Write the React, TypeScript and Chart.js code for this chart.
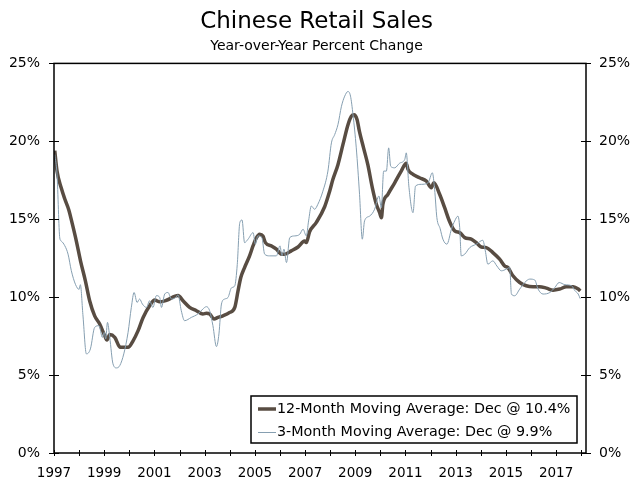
import { useEffect, useRef } from 'react';
import { Chart, registerables } from 'chart.js';

Chart.register(...registerables);

// 12-month moving average, year-over-year % change
const ma12Years = [
  1997.03, 1997.12, 1997.29, 1997.43, 1997.59, 1997.73, 1997.89, 1998.06, 1998.25, 1998.42,
  1998.62, 1998.82, 1999.02, 1999.11, 1999.22, 1999.42, 1999.64, 1999.95, 2000.15, 2000.35,
  2000.55, 2000.81, 2001.01, 2001.21, 2001.48, 2001.94, 2002.14, 2002.4, 2002.67, 2002.93,
  2003.07, 2003.2, 2003.37, 2003.53, 2003.73, 2004.0, 2004.2, 2004.33, 2004.44, 2004.59,
  2004.79, 2004.93, 2005.06, 2005.19, 2005.32, 2005.42, 2005.66, 2005.86, 2006.06, 2006.19,
  2006.45, 2006.72, 2006.98, 2007.05, 2007.18, 2007.45, 2007.78, 2007.98, 2008.11, 2008.31,
  2008.51, 2008.71, 2008.84, 2008.95, 2009.07, 2009.17, 2009.33, 2009.5, 2009.68, 2009.84,
  2009.97, 2010.04, 2010.1, 2010.3, 2010.57, 2010.83, 2011.03, 2011.1, 2011.3, 2011.56,
  2011.83, 2012.03, 2012.13, 2012.36, 2012.56, 2012.76, 2012.96, 2013.16, 2013.36, 2013.62,
  2013.82, 2014.02, 2014.22, 2014.48, 2014.75, 2014.95, 2015.08, 2015.28, 2015.55, 2015.81,
  2016.08, 2016.34, 2016.61, 2016.88, 2017.14, 2017.41, 2017.68, 2017.88, 2017.96,
];
const ma12Values = [
  19.4, 18.1, 17.0, 16.3, 15.6, 14.7, 13.6, 12.3, 11.05, 9.77,
  8.8, 8.28, 7.53, 7.25, 7.6, 7.42, 6.78, 6.78, 7.2, 7.85,
  8.7, 9.45, 9.81, 9.7, 9.8, 10.1, 9.77, 9.35, 9.13, 8.92,
  8.96, 8.92, 8.6, 8.7, 8.8, 9.02, 9.34, 10.4, 11.26, 11.9,
  12.65, 13.3, 13.8, 14.04, 13.93, 13.5, 13.29, 13.08, 12.76, 12.76,
  12.97, 13.22, 13.6, 13.5, 14.2, 14.8, 15.8, 16.8, 17.56, 18.5,
  19.8, 21.07, 21.6, 21.7, 21.4, 20.6, 19.58, 18.5, 17.02, 15.96,
  15.42, 15.1, 15.96, 16.6, 17.34, 18.09, 18.6, 18.2, 17.88, 17.66,
  17.45, 17.02, 17.34, 16.6, 15.74, 14.84, 14.25, 14.14, 13.82, 13.72,
  13.5, 13.22, 13.18, 12.86, 12.44, 12.0, 11.9, 11.37, 10.94, 10.73,
  10.67, 10.67, 10.58, 10.45, 10.52, 10.67, 10.67, 10.52, 10.4,
];

// 3-month moving average
const ma3Years = [
  1997.03, 1997.12, 1997.23, 1997.29, 1997.43, 1997.56, 1997.69, 1997.86, 1998.0, 1998.05,
  1998.15, 1998.29, 1998.45, 1998.62, 1998.79, 1998.93, 1999.0, 1999.06, 1999.13, 1999.22,
  1999.35, 1999.49, 1999.62, 1999.78, 1999.95, 2000.08, 2000.19, 2000.31, 2000.41, 2000.52,
  2000.68, 2000.81, 2000.94, 2001.08, 2001.21, 2001.28, 2001.41, 2001.54, 2001.68, 2001.85,
  2001.94, 2002.07, 2002.2, 2002.47, 2002.73, 2002.93, 2003.07, 2003.2, 2003.33, 2003.47,
  2003.57, 2003.67, 2003.8, 2003.93, 2004.07, 2004.2, 2004.3, 2004.4, 2004.49, 2004.59,
  2004.73, 2004.93, 2005.02, 2005.12, 2005.28, 2005.39, 2005.59, 2005.86, 2006.0, 2006.08,
  2006.16, 2006.26, 2006.39, 2006.59, 2006.79, 2006.92, 2007.05, 2007.14, 2007.25, 2007.38,
  2007.51, 2007.71, 2007.91, 2008.05, 2008.18, 2008.31, 2008.45, 2008.58, 2008.71, 2008.81,
  2008.91, 2009.04, 2009.17, 2009.28, 2009.37, 2009.57, 2009.77, 2009.94, 2010.04, 2010.13,
  2010.24, 2010.33, 2010.41, 2010.57, 2010.77, 2010.97, 2011.03, 2011.14, 2011.3, 2011.4,
  2011.63, 2011.9, 2012.07, 2012.16, 2012.25, 2012.38, 2012.49, 2012.65, 2012.83, 2012.96,
  2013.09, 2013.16, 2013.22, 2013.36, 2013.56, 2013.82, 2014.08, 2014.18, 2014.28, 2014.48,
  2014.64, 2014.82, 2015.02, 2015.15, 2015.22, 2015.35, 2015.55, 2015.75, 2015.95, 2016.15,
  2016.28, 2016.48, 2016.75, 2016.95, 2017.12, 2017.35, 2017.62, 2017.75, 2017.88, 2017.96,
];
const ma3Values = [
  19.15, 17.9, 13.8, 13.6, 13.3, 12.76, 11.7, 10.8, 10.5, 10.8,
  8.9, 6.36, 6.68, 8.06, 8.17, 7.42, 7.74, 7.32, 8.38, 7.42,
  5.72, 5.46, 5.61, 6.36, 7.74, 9.34, 10.3, 9.66, 9.88, 9.56,
  9.34, 9.77, 9.34, 10.1, 9.98, 9.34, 10.2, 10.3, 9.88, 9.98,
  10.15, 9.13, 8.49, 8.7, 8.92, 9.24, 9.39, 9.13, 8.17, 6.83,
  7.64, 9.56, 9.88, 9.98, 10.6, 10.73, 12.1, 14.78, 14.95, 13.5,
  13.72, 14.14, 13.4, 13.93, 13.82, 12.76, 12.65, 12.65, 13.29, 12.65,
  13.08, 12.22, 13.82, 13.93, 14.04, 14.36, 13.93, 14.89, 15.85, 15.64,
  15.96, 16.8, 18.09, 19.9, 20.43, 21.07, 22.25, 22.9, 23.2, 22.9,
  21.7, 19.58, 16.6, 13.72, 14.9, 15.2, 15.64, 16.49, 15.74, 18.09,
  18.09, 19.58, 18.4, 18.3, 18.6, 18.83, 19.26, 17.02, 15.42, 17.13,
  17.24, 17.34, 17.98, 16.92, 15.1, 14.4, 13.72, 13.4, 14.36, 14.89,
  15.2, 14.46, 12.65, 12.76, 13.18, 13.4, 13.65, 12.97, 12.12, 12.33,
  12.0, 11.69, 11.8, 11.9, 10.2, 10.09, 10.52, 10.94, 11.16, 11.1,
  10.52, 10.2, 10.3, 10.62, 10.94, 10.8, 10.73, 10.41, 10.2, 9.9,
];

const yearTicks = [
  1997, 1998, 1999, 2000, 2001, 2002, 2003, 2004, 2005, 2006, 2007,
  2008, 2009, 2010, 2011, 2012, 2013, 2014, 2015, 2016, 2017, 2018,
];
const percentTicks = [0, 5, 10, 15, 20, 25];

const seriesLabels = [
  '12-Month Moving Average: Dec @ 10.4%',
  '3-Month Moving Average: Dec @ 9.9%',
];

const FONT = 'DejaVu Sans';

// box around the plot plus ticks that cross the axes
const framePlugin = {
  id: 'frame',
  afterDraw(chart: any) {
    const { ctx, chartArea, scales } = chart;
    const { left, right, top, bottom } = chartArea;
    ctx.save();
    ctx.strokeStyle = '#000';
    ctx.lineWidth = 1.5;
    ctx.strokeRect(left, top, right - left, bottom - top);
    ctx.lineWidth = 1;
    ctx.beginPath();
    scales.y.ticks.forEach((t: any) => {
      const py = Math.round(scales.y.getPixelForValue(t.value)) + 0.5;
      ctx.moveTo(left - 5, py);
      ctx.lineTo(left + 5, py);
      ctx.moveTo(right - 5, py);
      ctx.lineTo(right + 5, py);
    });
    scales.x.ticks.forEach((t: any) => {
      const px = Math.round(scales.x.getPixelForValue(t.value)) + 0.5;
      ctx.moveTo(px, bottom - 3);
      ctx.lineTo(px, bottom + 3);
    });
    ctx.stroke();
    ctx.restore();
  },
};

// legend in a bordered box at the lower right of the plot
const boxLegendPlugin = {
  id: 'boxLegend',
  afterDraw(chart: any) {
    const { ctx, chartArea } = chart;
    const w = 326;
    const h = 47;
    const x0 = chartArea.right - 9 - w;
    const y0 = chartArea.bottom - 10 - h;
    ctx.save();
    ctx.fillStyle = '#fff';
    ctx.fillRect(x0, y0, w, h);
    ctx.strokeStyle = '#000';
    ctx.lineWidth = 1.5;
    ctx.strokeRect(x0, y0, w, h);
    ctx.font = `14.3px "${FONT}"`;
    ctx.textBaseline = 'middle';
    chart.data.datasets.forEach((ds: any, i: number) => {
      const cy = y0 + 13 + i * 23.5;
      ctx.strokeStyle = ds.borderColor;
      ctx.lineWidth = ds.borderWidth;
      ctx.beginPath();
      ctx.moveTo(x0 + 7, cy);
      ctx.lineTo(x0 + 25, cy);
      ctx.stroke();
      ctx.fillStyle = '#000';
      ctx.fillText(ds.label, x0 + 26, cy);
    });
    ctx.restore();
  },
};

const RetailSalesChart = () => {
  const canvasRef = useRef<HTMLCanvasElement>(null);
  const chartRef = useRef<Chart | null>(null);

  useEffect(() => {
    if (!canvasRef.current) return;
    if (chartRef.current) chartRef.current.destroy();

    const yTicks = (padding: number) => ({
      padding,
      color: '#000',
      font: { family: FONT, size: 14 },
      callback: (v: any) => `${v}%`,
    });

    chartRef.current = new Chart(canvasRef.current, {
      type: 'line',
      data: {
        datasets: [
          {
            label: seriesLabels[0],
            data: ma12Years.map((x, i) => ({ x, y: ma12Values[i] })),
            borderColor: '#584c42',
            borderWidth: 3.5,
            pointRadius: 0,
            cubicInterpolationMode: 'monotone',
            order: 1,
          },
          {
            label: seriesLabels[1],
            data: ma3Years.map((x, i) => ({ x, y: ma3Values[i] })),
            borderColor: '#869fb1',
            borderWidth: 1,
            pointRadius: 0,
            cubicInterpolationMode: 'monotone',
            order: 0,
          },
        ],
      },
      options: {
        animation: false,
        responsive: true,
        maintainAspectRatio: false,
        layout: { padding: 0 },
        plugins: {
          legend: { display: false },
          tooltip: { enabled: false },
          title: {
            display: true,
            text: 'Chinese Retail Sales',
            color: '#000',
            font: { family: FONT, size: 23, weight: 'normal' },
            padding: { top: 8, bottom: 2 },
          },
          subtitle: {
            display: true,
            text: 'Year-over-Year Percent Change',
            color: '#000',
            font: { family: FONT, size: 14, weight: 'normal' },
            padding: { top: 0, bottom: 9 },
          },
        },
        scales: {
          x: {
            type: 'linear',
            min: 1997,
            max: 2018.19,
            grid: { display: false, drawTicks: false },
            border: { display: false },
            afterBuildTicks: (scale: any) => {
              scale.ticks = yearTicks.map((value) => ({ value }));
            },
            afterFit: (scale: any) => {
              scale.height = 29;
            },
            ticks: {
              autoSkip: false,
              maxRotation: 0,
              padding: 12,
              color: '#000',
              font: { family: FONT, size: 13.5 },
              callback: (v: any) => ((v - 1997) % 2 === 0 && v < 2018 ? String(v) : ''),
            },
          },
          y: {
            position: 'left',
            min: 0,
            max: 25,
            grid: { display: false, drawTicks: false },
            border: { display: false },
            afterBuildTicks: (scale: any) => {
              scale.ticks = percentTicks.map((value) => ({ value }));
            },
            afterFit: (scale: any) => {
              scale.width = 54;
            },
            ticks: yTicks(14),
          },
          y2: {
            position: 'right',
            min: 0,
            max: 25,
            grid: { display: false, drawTicks: false },
            border: { display: false },
            afterBuildTicks: (scale: any) => {
              scale.ticks = percentTicks.map((value) => ({ value }));
            },
            afterFit: (scale: any) => {
              scale.width = 47;
            },
            ticks: yTicks(13),
          },
        },
      },
      plugins: [framePlugin, boxLegendPlugin],
    } as any);

    return () => {
      if (chartRef.current) {
        chartRef.current.destroy();
        chartRef.current = null;
      }
    };
  }, []);

  return (
    <div style={{ position: 'absolute', left: 0, top: 0, width: 633, height: 482, background: '#fff' }}>
      <canvas ref={canvasRef} />
    </div>
  );
};

export default function App() {
  return <RetailSalesChart />;
}
